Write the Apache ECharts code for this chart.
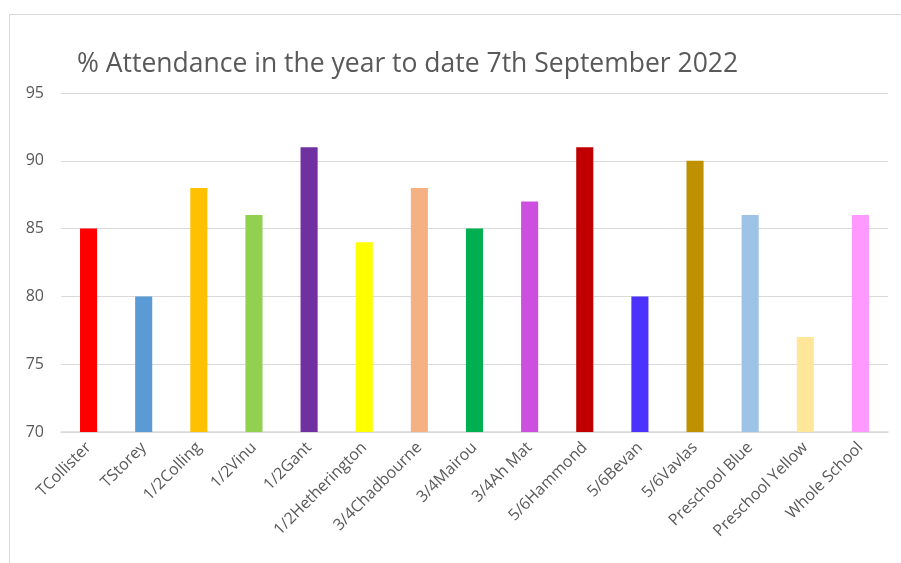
<!DOCTYPE html>
<html>
<head>
<meta charset="utf-8">
<script src="https://cdn.jsdelivr.net/npm/echarts@6/dist/echarts.min.js"></script>
<style>
html,body{margin:0;padding:0;background:#fff;}
#frame{position:absolute;left:9px;top:14px;width:892px;height:549px;border-left:1px solid #d9d9d9;border-top:1px solid #d9d9d9;}
#chart{position:absolute;left:0;top:0;width:901px;height:563px;}
</style>
</head>
<body>
<div id="frame"></div>
<div id="chart"></div>
<script>
const categories = ['TCollister','TStorey','1/2Colling','1/2Vinu','1/2Gant','1/2Hetherington','3/4Chadbourne','3/4Mairou','3/4Ah Mat','5/6Hammond','5/6Bevan','5/6Vavlas','Preschool Blue','Preschool Yellow','Whole School'];
const values = [85, 80, 88, 86, 91, 84, 88, 85, 87, 91, 80, 90, 86, 77, 86];
const colors = ['#FF0000','#5B9BD5','#FFC000','#92D050','#7030A0','#FFFF00','#F4B183','#00B050','#CC4FE0','#C00000','#4B32FF','#BF9000','#9DC3E6','#FFE699','#FF99FF'];
const titleText = '% Attendance in the year to date 7th September 2022';

const chart = echarts.init(document.getElementById('chart'));
chart.setOption({
  animation: false,
  title: {
    text: titleText,
    left: 72, top: 46,
    textStyle: {fontFamily: 'Open Sans', fontSize: 26.5, fontWeight: 'normal', color: '#595959'}
  },
  grid: {left: 61, right: 13, top: 93, bottom: 131},
  xAxis: {
    type: 'category',
    data: categories,
    axisLine: {lineStyle: {color: '#d9d9d9', width: 1.5}},
    axisTick: {show: false},
    axisLabel: {rotate: 45, interval: 0, color: '#595959', fontFamily: 'Open Sans', fontSize: 16, margin: 13}
  },
  yAxis: {
    type: 'value',
    min: 70, max: 95, interval: 5,
    axisLine: {show: false},
    axisTick: {show: false},
    splitLine: {lineStyle: {color: '#d9d9d9'}},
    axisLabel: {color: '#595959', fontFamily: 'Open Sans', fontSize: 16, margin: 17}
  },
  series: [{
    type: 'bar',
    data: values.map((v, i) => ({value: v, itemStyle: {color: colors[i]}})),
    barWidth: '31%'
  }]
});
</script>
</body>
</html>
